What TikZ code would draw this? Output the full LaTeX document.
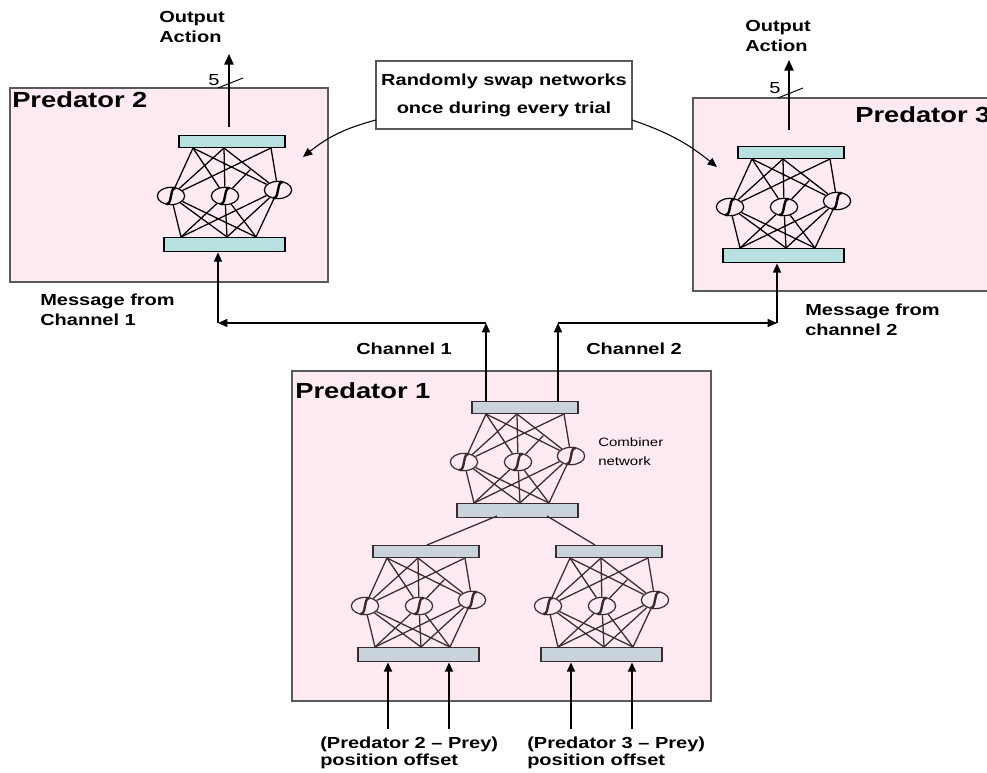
\documentclass[tikz,border=0pt]{standalone}
\usepackage{fontspec}
\setmainfont{Liberation Sans}[FakeStretch=1.25]
\usetikzlibrary{arrows.meta,shapes.geometric,calc}
\definecolor{pinkbg}{HTML}{FDEAF2}
\definecolor{cyanbar}{HTML}{B9E0E0}
\definecolor{graybar}{HTML}{C8D3DC}
\definecolor{brd}{HTML}{5A5A5A}
\definecolor{netdark}{HTML}{3A2C2C}
\tikzset{
 bar/.style={draw, rectangle, inner sep=0pt, line width=0.8pt},
 neuron/.style={draw, ellipse, fill=pinkbg, minimum width=20.5pt, minimum height=13pt, inner sep=0pt, line width=0.9pt},
 conn/.style={line width=0.95pt},
 glyph/.style={line width=1.8pt},
 box/.style={draw=brd, fill=pinkbg, line width=0.8pt},
 arr/.style={-{Triangle[length=7pt,width=6pt]}, line width=1.1pt},
 lbl/.style={font=\bfseries\fontsize{12}{15}\selectfont, inner sep=0pt, align=left},
 big/.style={font=\bfseries\fontsize{16.4}{20}\selectfont, inner sep=0pt},
 num/.style={font=\fontsize{12}{12}\selectfont, inner sep=0pt},
}
\newcommand\netw[5]{%
\begin{scope}[shift={(#2,#3)}]
 \node[bar, fill=#4, draw=#5, minimum width=79.5pt, minimum height=9.5pt] (#1t) at (53,6.5) {};
 \node[bar, fill=#4, draw=#5, minimum width=90.75pt, minimum height=11pt] (#1b) at (45.5,109.5) {};
 \node[neuron, draw=#5] (#1n1) at (-8,61) {};
 \node[neuron, draw=#5] (#1n2) at (46,61) {};
 \node[neuron, draw=#5] (#1n3) at (99,55) {};
 \coordinate (#1a1) at (14,13);
 \coordinate (#1a2) at (45,13);
 \coordinate (#1a3) at (92,13);
 \coordinate (#1c1) at (2,102);
 \coordinate (#1c2) at (48,102);
 \coordinate (#1c3) at (77,102);
 \foreach \i in {1,2,3}{\foreach \j in {1,2,3}{%
   \ifnum\i\j=32 \else \draw[conn,#5] (#1a\i) -- (#1n\j);\fi
   \draw[conn,#5] (#1n\i) -- (#1c\j);}}
 \draw[conn,#5] ($(#1a3)!0.45!(#1n2)$) -- (#1n2);
 \foreach \k in {1,2,3}{%
   \draw[glyph,#5] ([shift={(-3.5pt,-5.5pt)}]#1n\k.center) .. controls ([shift={(-2pt,-7pt)}]#1n\k.center) and ([shift={(-0.8pt,-5pt)}]#1n\k.center) .. (#1n\k.center) .. controls ([shift={(0.8pt,5pt)}]#1n\k.center) and ([shift={(2pt,7pt)}]#1n\k.center) .. ([shift={(3.5pt,5.5pt)}]#1n\k.center);}
\end{scope}}
\begin{document}
\begin{tikzpicture}[x=0.75pt,y=-0.75pt]
\useasboundingbox (0,0) rectangle (987,773);
\clip (0,0) rectangle (987,773);
\fill[white] (0,0) rectangle (987,773);
% boxes
\draw[box] (10,88) rectangle (328,282);
\draw[box] (693,98) rectangle (1000,291);
\draw[box] (292,371) rectangle (711,701);
\node[big, anchor=base west] (t2) at (12,108) {Predator 2};
\node[big, anchor=base west] (t3) at (855,123) {Predator 3};
\node[big, anchor=base west] (t1) at (295,398) {Predator 1};
% networks
\netw{p2}{179}{135}{cyanbar}{black}
\netw{p3}{738}{146}{cyanbar}{black}
\netw{cb}{472}{401}{graybar}{netdark}
\netw{ll}{373}{545}{graybar}{netdark}
\netw{lr}{556}{545}{graybar}{netdark}
% combiner to lower networks
\coordinate (cbl) at (497,516);
\coordinate (cbr) at (547,516);
\coordinate (llt) at (427,545);
\coordinate (lrt) at (595,545);
\draw[conn,netdark] (cbl) -- (llt);
\draw[conn,netdark] (cbr) -- (lrt);
\node[font=\fontsize{9}{14}\selectfont, inner sep=0pt, align=left, anchor=west] (cbname) at (598,452) {Combiner\\network};
% output arrows
\coordinate (o2s) at (229,127); \coordinate (o2e) at (229,54);
\coordinate (o3s) at (789,130); \coordinate (o3e) at (789,60);
\draw[arr, line width=1.3pt, -{Triangle[length=8pt,width=7pt]}] (o2s) -- (o2e);
\draw[arr, line width=1.3pt, -{Triangle[length=8pt,width=7pt]}] (o3s) -- (o3e);
\draw[line width=0.7pt] (218,88) -- (243,78);
\draw[line width=0.7pt] (778,98) -- (803,88);
\node[num] (f2) at (214,80) {5};
\node[num] (f3) at (775,88) {5};
\node[lbl, anchor=west] (oa2) at (159,27) {Output\\Action};
\node[lbl, anchor=west] (oa3) at (745,36) {Output\\Action};
% swap box
\node[draw=brd, line width=0.8pt, fill=white, minimum width=192pt, minimum height=51pt, inner sep=0pt, align=center, font=\bfseries\fontsize{12}{21}\selectfont] (swap) at (504,95) {Randomly swap networks\\once during every trial};
\coordinate (sl) at (376,120); \coordinate (sr) at (632,120);
\coordinate (p2in) at (303,157); \coordinate (p3in) at (717,167);
\draw[-{Triangle[length=7pt,width=6pt]}, line width=0.8pt] (sl) to[bend right=12] (p2in);
\draw[-{Triangle[length=7pt,width=6pt]}, line width=0.8pt] (sr) to[bend left=10] (p3in);
% channels
\coordinate (ct1) at (486,401); \coordinate (ch1) at (486,323); \coordinate (m1) at (218,323);
\coordinate (ct2) at (558,401); \coordinate (ch2) at (558,323); \coordinate (m2) at (777,323);
\draw[arr] (ct1) -- (ch1);
\draw[arr] (ch1) -- (m1);
\draw[arr] (m1) -- (m1 |- p2b.south);
\draw[arr] (ct2) -- (ch2);
\draw[arr] (ch2) -- (m2);
\draw[arr] (m2) -- (m2 |- p3b.south);
\node[lbl, anchor=west] (ml1) at (40,310) {Message from\\Channel 1};
\node[lbl, anchor=west] (ml2) at (805,320) {Message from\\channel 2};
\node[lbl, anchor=west] (c1) at (356,349) {Channel 1};
\node[lbl, anchor=west] (c2) at (586,349) {Channel 2};
% inputs
\coordinate (i1) at (388,729); \coordinate (i2) at (449,729);
\coordinate (i3) at (571,729); \coordinate (i4) at (632,729);
\draw[arr, line width=1.6pt] (i1) -- (i1 |- llb.south);
\draw[arr, line width=1.3pt] (i2) -- (i2 |- llb.south);
\draw[arr, line width=1.3pt] (i3) -- (i3 |- lrb.south);
\draw[arr, line width=1.3pt] (i4) -- (i4 |- lrb.south);
\node[lbl, anchor=west, font=\bfseries\fontsize{12}{12.5}\selectfont] (in1) at (320,753) {(Predator 2 – Prey)\\position offset};
\node[lbl, anchor=west, font=\bfseries\fontsize{12}{12.5}\selectfont] (in2) at (527,753) {(Predator 3 – Prey)\\position offset};
\end{tikzpicture}
\end{document}
